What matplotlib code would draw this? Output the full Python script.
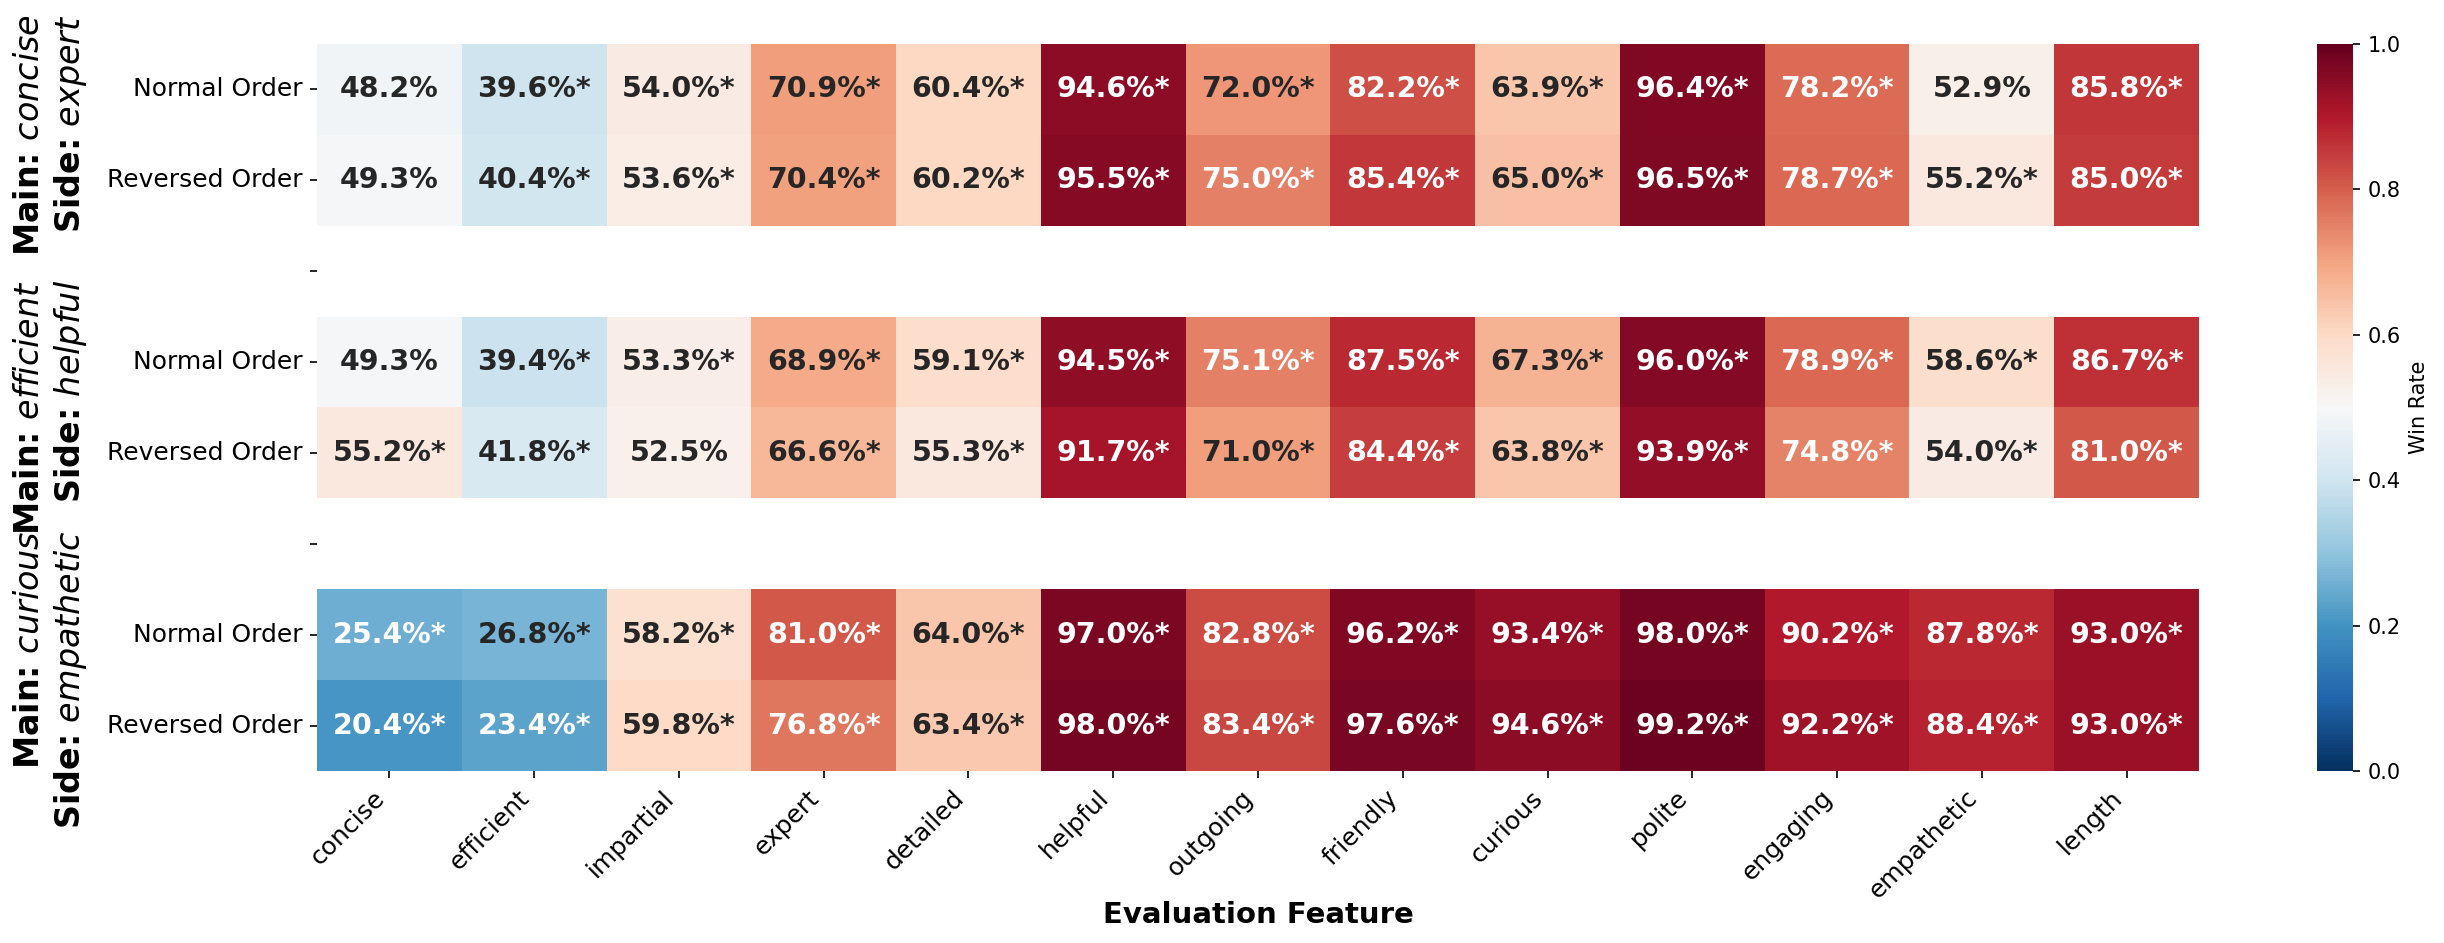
import numpy as np
import pandas as pd
import matplotlib
matplotlib.use("Agg")
import matplotlib.pyplot as plt
import matplotlib.transforms as mtransforms
import seaborn as sns

features = ["concise", "efficient", "impartial", "expert", "detailed", "helpful",
            "outgoing", "friendly", "curious", "polite", "engaging", "empathetic", "length"]

row_labels = ["Normal Order", "Reversed Order", "", "Normal Order", "Reversed Order", "",
              "Normal Order", "Reversed Order"]

group_main = ["concise", "efficient", "curious"]
group_side = ["expert", "helpful", "empathetic"]

# win rates (%)
g1_normal = [48.2, 39.6, 54.0, 70.9, 60.4, 94.6, 72.0, 82.2, 63.9, 96.4, 78.2, 52.9, 85.8]
g1_reversed = [49.3, 40.4, 53.6, 70.4, 60.2, 95.5, 75.0, 85.4, 65.0, 96.5, 78.7, 55.2, 85.0]
g2_normal = [49.3, 39.4, 53.3, 68.9, 59.1, 94.5, 75.1, 87.5, 67.3, 96.0, 78.9, 58.6, 86.7]
g2_reversed = [55.2, 41.8, 52.5, 66.6, 55.3, 91.7, 71.0, 84.4, 63.8, 93.9, 74.8, 54.0, 81.0]
g3_normal = [25.4, 26.8, 58.2, 81.0, 64.0, 97.0, 82.8, 96.2, 93.4, 98.0, 90.2, 87.8, 93.0]
g3_reversed = [20.4, 23.4, 59.8, 76.8, 63.4, 98.0, 83.4, 97.6, 94.6, 99.2, 92.2, 88.4, 93.0]

# significance flags (1 = marked with *)
s1_normal = [0, 1, 1, 1, 1, 1, 1, 1, 1, 1, 1, 0, 1]
s1_reversed = [0, 1, 1, 1, 1, 1, 1, 1, 1, 1, 1, 1, 1]
s2_normal = [0, 1, 1, 1, 1, 1, 1, 1, 1, 1, 1, 1, 1]
s2_reversed = [1, 1, 0, 1, 1, 1, 1, 1, 1, 1, 1, 1, 1]
s3_normal = [1] * 13
s3_reversed = [1] * 13

nan_row = [np.nan] * 13
values = np.array([g1_normal, g1_reversed, nan_row, g2_normal, g2_reversed, nan_row,
                   g3_normal, g3_reversed], dtype=float) / 100.0
sig = [s1_normal, s1_reversed, None, s2_normal, s2_reversed, None, s3_normal, s3_reversed]

annot = []
for i, row in enumerate(values):
    r = []
    for j, v in enumerate(row):
        if np.isnan(v):
            r.append("")
        else:
            r.append(f"{v*100:.1f}%" + ("*" if sig[i][j] else ""))
    annot.append(r)
annot = np.array(annot)

df = pd.DataFrame(values, index=range(len(row_labels)), columns=features)

W, H = 2444, 943
fig = plt.figure(figsize=(W / 150, H / 150), dpi=150)
ax = fig.add_axes([317 / W, 1 - 771 / H, 1882 / W, 727 / H])
cax = fig.add_axes([2317 / W, 1 - 771 / H, 36 / W, 727 / H])

sns.heatmap(df, ax=ax, cbar_ax=cax, cmap="RdBu_r", vmin=0, vmax=1, center=0.5,
            annot=annot, fmt="", annot_kws={"fontsize": 13.7, "fontweight": "bold"},
            mask=np.isnan(values), cbar_kws={"label": "Win Rate"},
            xticklabels=features, yticklabels=row_labels)

ax.set_yticklabels(row_labels, rotation=0, fontsize=12)
ax.set_xticklabels(features, rotation=45, ha="right", fontsize=12)
ax.set_xlabel("Evaluation Feature", fontsize=14, fontweight="bold", labelpad=-1)
ax.set_ylabel("")
cax.tick_params(labelsize=10)
cax.yaxis.label.set_size(10)

trans = mtransforms.blended_transform_factory(fig.transFigure, ax.transData)
for k, (m, s) in enumerate(zip(group_main, group_side)):
    yc = 3 * k + 1.0
    txt = "Main: $\\it{" + m + "}$\nSide: $\\it{" + s + "}$"
    fig.text(89 / W, yc, txt, transform=trans, rotation=90, ha="right", va="center",
             multialignment="right", fontsize=16, fontweight="bold")

fig.savefig("out.png", dpi=150)
